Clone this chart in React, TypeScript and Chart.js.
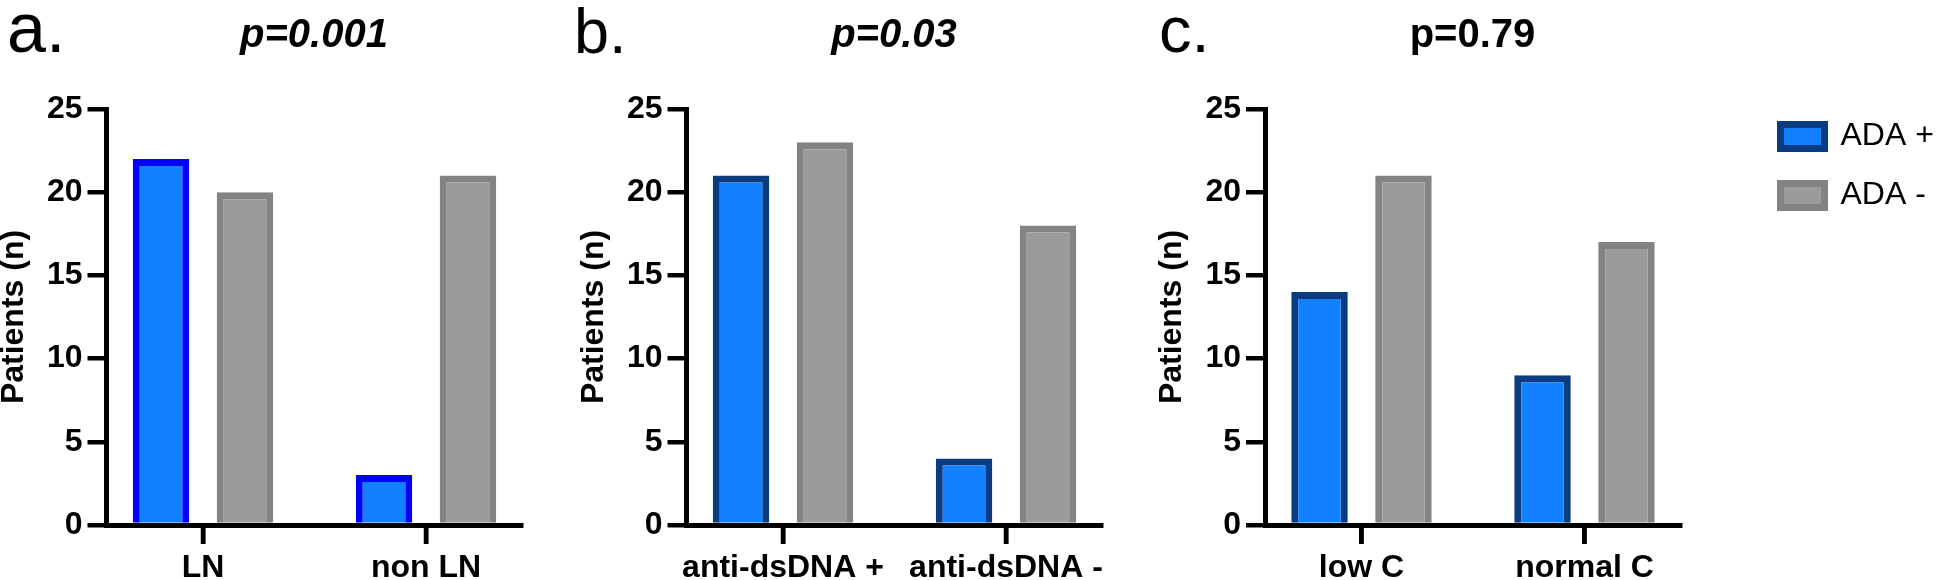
import React, { useEffect, useRef } from "react";
import { Chart, registerables } from "chart.js";

Chart.register(...registerables);

// ---------- data ----------
const panelLetters = ["a.", "b.", "c."];
const pValues = ["p=0.001", "p=0.03", "p=0.79"];
const categoriesA = ["LN", "non LN"];
const categoriesB = ["anti-dsDNA +", "anti-dsDNA -"];
const categoriesC = ["low C", "normal C"];
const adaPositiveA = [22, 3];
const adaNegativeA = [20, 21];
const adaPositiveB = [21, 4];
const adaNegativeB = [23, 18];
const adaPositiveC = [14, 9];
const adaNegativeC = [21, 17];
const seriesNames = ["ADA +", "ADA -"];
const yAxisTitle = "Patients (n)";
const yMin = 0;
const yMax = 25;
const yStep = 5;

// ---------- style ----------
const FONT = "'Liberation Sans', Arial, sans-serif";
const BLUE_FILL = "#1280FF";
const BLUE_BORDER_A = "#0000FF";
const BLUE_BORDER_BC = "#0C3C80";
const GRAY_FILL = "#9B9B9B";
const GRAY_BORDER = "#838383";
const AXIS_W = 5;
const TICK_W = 4.5;
const TICK_LEN = 19;

// category tick marks under the x axis, positioned by the x scale
const categoryTickMarks = {
  id: "categoryTickMarks",
  afterDraw(chart: any) {
    const xs = chart.scales.x;
    if (!xs) return;
    const ctx = chart.ctx;
    ctx.save();
    ctx.strokeStyle = "#000";
    ctx.lineWidth = TICK_W;
    ctx.lineCap = "butt";
    for (let i = 0; i < xs.ticks.length; i++) {
      const px = xs.getPixelForValue(xs.ticks[i].value);
      ctx.beginPath();
      ctx.moveTo(px, xs.top);
      ctx.lineTo(px, xs.top + TICK_LEN);
      ctx.stroke();
    }
    ctx.restore();
  },
};

type PanelProps = {
  left: number;
  width: number;
  yWidth: number;
  plotWidth: number;
  categories: string[];
  pos: number[];
  neg: number[];
  title: string;
  italic: boolean;
  posBorder: string;
  legend?: boolean;
};

function Panel(props: PanelProps) {
  const ref = useRef<HTMLCanvasElement>(null);
  useEffect(() => {
    const {
      width,
      yWidth,
      plotWidth,
      categories,
      pos,
      neg,
      title,
      italic,
      posBorder,
      legend,
    } = props;

    const legendFontSize = 32;
    const legendBoxW = 44;
    const legendPad = 27;
    const legendLeft = 1780.5 - props.left - legendPad;
    const chartRight = yWidth + plotWidth;

    let padRight = width - chartRight;
    let spacerWidth = 0;
    let legendW = 0;
    if (legend) {
      const mctx = document.createElement("canvas").getContext("2d")!;
      mctx.font = `normal ${legendFontSize}px ${FONT}`;
      const tw = Math.max(...seriesNames.map((s) => mctx.measureText(s).width));
      legendW = legendPad + legendBoxW + legendFontSize / 2 + tw + 10;
      spacerWidth = legendLeft - chartRight;
      padRight = width - legendLeft - legendW;
    }

    const unitPx = 223;
    const xMin = -96.5 / unitPx;
    const xMax = xMin + plotWidth / unitPx;

    const scales: any = {
      x: {
        type: "linear",
        position: "bottom",
        min: xMin,
        max: xMax,
        offset: false,
        afterBuildTicks: (s: any) => {
          s.ticks = categories.map((_, i) => ({ value: i }));
        },
        afterFit: (s: any) => {
          s.height = 55;
        },
        ticks: {
          callback: (v: any) => categories[Math.round(Number(v))] ?? "",
          font: { family: FONT, size: 32, weight: "bold", lineHeight: 1.2 },
          color: "#000",
          padding: 5,
          maxRotation: 0,
          minRotation: 0,
          autoSkip: false,
        },
        grid: {
          display: true,
          offset: false,
          drawOnChartArea: false,
          drawTicks: true,
          tickLength: TICK_LEN,
          tickWidth: TICK_W,
          tickColor: "#000",
          color: "#000",
          lineWidth: TICK_W,
          z: 2,
        },
        border: { display: true, color: "#000", width: AXIS_W, z: 2 },
      },
      y: {
        type: "linear",
        position: "left",
        min: yMin,
        max: yMax,
        afterFit: (s: any) => {
          s.width = yWidth;
        },
        ticks: {
          stepSize: yStep,
          font: { family: FONT, size: 32, weight: "bold" },
          color: "#000",
          padding: 5,
        },
        grid: {
          display: true,
          offset: false,
          drawOnChartArea: false,
          drawTicks: true,
          tickLength: TICK_LEN,
          tickWidth: TICK_W,
          tickColor: "#000",
          color: "#000",
          lineWidth: TICK_W,
        },
        border: { display: true, color: "#000", width: AXIS_W, z: 2 },
        title: {
          display: true,
          text: yAxisTitle,
          color: "#000",
          font: { family: FONT, size: 32, weight: "bold", lineHeight: 0.875 },
          padding: 0,
        },
      },
    };
    if (legend) {
      scales.spacer = {
        type: "linear",
        position: "right",
        axis: "y",
        display: true,
        grid: { display: false },
        ticks: { display: false },
        border: { display: false },
        afterFit: (s: any) => {
          s.width = spacerWidth;
        },
      };
    }

    const chart = new Chart(ref.current!, {
      type: "bar",
      data: {
        datasets: [
          {
            label: seriesNames[0],
            data: categories.map((_, i) => ({ x: i, y: pos[i] })),
            backgroundColor: BLUE_FILL,
            borderColor: posBorder,
            borderWidth: 7,
            borderSkipped: "start",
            categoryPercentage: 0.753,
            barPercentage: 0.673,
          },
          {
            label: seriesNames[1],
            data: categories.map((_, i) => ({ x: i, y: neg[i] })),
            backgroundColor: GRAY_FILL,
            borderColor: GRAY_BORDER,
            borderWidth: 7,
            borderSkipped: "start",
            categoryPercentage: 0.753,
            barPercentage: 0.673,
          },
        ],
      } as any,
      options: {
        responsive: false,
        animation: false,
        devicePixelRatio: 1,
        events: [],
        layout: { padding: { left: 0, right: padRight, top: 0, bottom: 0 } },
        plugins: {
          title: {
            display: true,
            text: title,
            fullSize: false,
            color: "#000",
            font: {
              family: FONT,
              size: 40,
              weight: "bold",
              style: italic ? "italic" : "normal",
              lineHeight: 1.2,
            },
            padding: { top: 12, bottom: 49 },
          },
          legend: legend
            ? {
                display: true,
                position: "right",
                align: "start",
                fullSize: true,
                maxWidth: legendW + 2,
                title: {
                  display: true,
                  text: "",
                  padding: 0,
                  font: { family: FONT, size: 93.5, lineHeight: 1 },
                },
                labels: {
                  boxWidth: legendBoxW,
                  boxHeight: 24,
                  padding: legendPad,
                  color: "#000",
                  font: { family: FONT, size: legendFontSize, weight: "normal" },
                },
              }
            : { display: false },
          tooltip: { enabled: false },
        },
        scales,
      } as any,
      plugins: [categoryTickMarks],
    });
    return () => chart.destroy();
  }, []);

  return (
    <canvas
      ref={ref}
      width={props.width}
      height={580}
      style={{
        position: "absolute",
        left: props.left,
        top: 0,
        width: props.width,
        height: 580,
        display: "block",
      }}
    />
  );
}

const letterStyle = (left: number, top: number, size: number): React.CSSProperties => ({
  position: "absolute",
  left,
  top,
  fontFamily: FONT,
  fontSize: size,
  lineHeight: `${size}px`,
  color: "#000",
  whiteSpace: "nowrap",
});

export default function App() {
  return (
    <div
      style={{
        position: "absolute",
        left: 0,
        top: 0,
        width: 1952,
        height: 580,
        background: "#fff",
        overflow: "hidden",
      }}
    >
      <Panel
        left={0}
        width={560}
        yWidth={106.5}
        plotWidth={415}
        categories={categoriesA}
        pos={adaPositiveA}
        neg={adaNegativeA}
        title={pValues[0]}
        italic={true}
        posBorder={BLUE_BORDER_A}
      />
      <Panel
        left={580}
        width={560}
        yWidth={106.5}
        plotWidth={415}
        categories={categoriesB}
        pos={adaPositiveB}
        neg={adaNegativeB}
        title={pValues[1]}
        italic={true}
        posBorder={BLUE_BORDER_BC}
      />
      <Panel
        left={1158}
        width={794}
        yWidth={107}
        plotWidth={415}
        categories={categoriesC}
        pos={adaPositiveC}
        neg={adaNegativeC}
        title={pValues[2]}
        italic={false}
        posBorder={BLUE_BORDER_BC}
        legend={true}
      />
      <div style={letterStyle(7, -7, 70)}>{panelLetters[0]}</div>
      <div style={letterStyle(574, 0, 63)}>{panelLetters[1]}</div>
      <div style={letterStyle(1159, -3, 65)}>{panelLetters[2]}</div>
    </div>
  );
}
